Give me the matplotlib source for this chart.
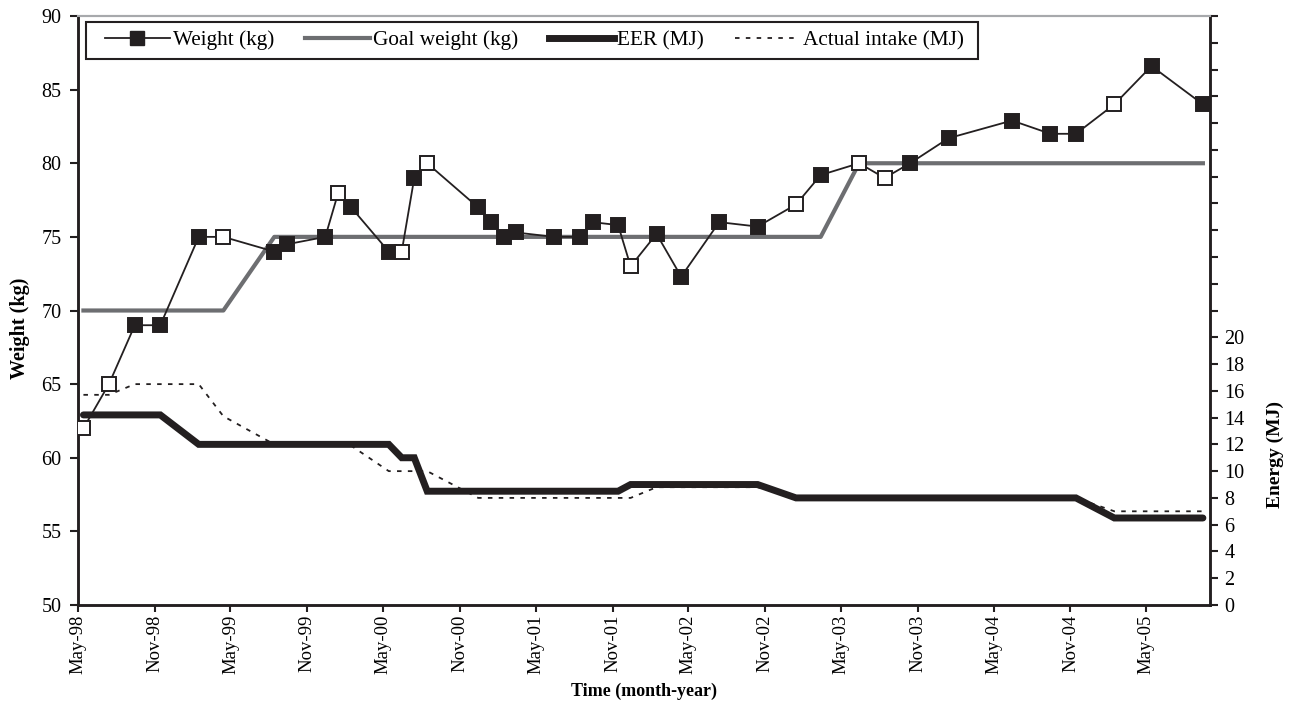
import matplotlib
matplotlib.use("Agg")
import matplotlib.pyplot as plt
from matplotlib.ticker import FixedLocator, FuncFormatter
from matplotlib.lines import Line2D
from matplotlib.patches import Rectangle
import numpy as np
import datetime as dt

plt.rcParams['font.family'] = ['Liberation Serif', 'DejaVu Serif']

# ---- data ----
weight_dates = ["1998-05", "1998-07", "1998-09", "1998-11", "1999-02", "1999-04",
                "1999-08", "1999-09", "1999-12", "2000-01", "2000-02", "2000-05",
                "2000-06", "2000-07", "2000-08", "2000-12", "2001-01", "2001-02",
                "2001-03", "2001-06", "2001-08", "2001-09", "2001-11", "2001-12",
                "2002-02", "2002-04", "2002-07", "2002-10", "2003-01", "2003-03",
                "2003-06", "2003-08", "2003-10", "2004-01", "2004-06", "2004-09",
                "2004-11", "2005-02", "2005-05", "2005-09"]
weight_kg = [62.0, 65.0, 69.0, 69.0, 75.0, 75.0,
             74.0, 74.5, 75.0, 78.0, 77.0, 74.0,
             74.0, 79.0, 80.0, 77.0, 76.0, 75.0,
             75.3, 75.0, 75.0, 76.0, 75.8, 73.0,
             75.2, 72.3, 76.0, 75.7, 77.2, 79.2,
             80.0, 79.0, 80.0, 81.7, 82.9, 82.0,
             82.0, 84.0, 86.6, 84.0]
weight_open = [1, 1, 0, 0, 0, 1,
               0, 0, 0, 1, 0, 0,
               1, 0, 1, 0, 0, 0,
               0, 0, 0, 0, 0, 1,
               0, 0, 0, 0, 1, 0,
               1, 1, 0, 0, 0, 0,
               0, 1, 0, 0]

goal_dates = ["1998-05", "1999-04", "1999-08", "2003-03", "2003-06", "2005-09"]
goal_kg = [70, 70, 75, 75, 80, 80]

eer_dates = ["1998-05", "1998-11", "1999-02", "2000-05", "2000-06", "2000-07",
             "2000-08", "2001-11", "2001-12", "2002-10", "2003-01", "2004-11",
             "2005-02", "2005-09"]
eer_mj = [14.2, 14.2, 12.0, 12.0, 11.0, 11.0,
          8.5, 8.5, 9.0, 9.0, 8.0, 8.0,
          6.5, 6.5]

intake_dates = ["1998-05", "1998-07", "1998-09", "1998-11", "1999-02", "1999-04",
                "1999-08", "1999-09", "1999-12", "2000-01", "2000-02", "2000-05",
                "2000-06", "2000-07", "2000-08", "2000-12", "2001-11", "2001-12",
                "2002-02", "2002-10", "2003-01", "2004-11", "2005-02", "2005-09"]
intake_mj = [15.7, 15.7, 16.5, 16.5, 16.5, 14.1,
             12.0, 12.0, 12.0, 12.0, 11.9, 10.0,
             10.0, 10.0, 10.0, 8.0, 8.0, 8.0,
             8.8, 8.8, 8.0, 8.0, 7.0, 7.0]

tick_labels = ["May-98", "Nov-98", "May-99", "Nov-99", "May-00", "Nov-00", "May-01",
               "Nov-01", "May-02", "Nov-02", "May-03", "Nov-03", "May-04", "Nov-04",
               "May-05"]
legend_labels = ["Weight (kg)", "Goal weight (kg)", "EER (MJ)", "Actual intake (MJ)"]


def to_date(s, day=14):
    y, m = s.split("-")
    return dt.date(int(y), int(m), day)


wd = [to_date(s) for s in weight_dates]
gd = [to_date(s) for s in goal_dates]
ed = [to_date(s) for s in eer_dates]
idt = [to_date(s) for s in intake_dates]

BLACK = "#231f20"
GREY = "#6d6e71"
DOT = (0, (2.5, 3.5))
W, H = 1296, 722

fig = plt.figure(figsize=(W / 100, H / 100), dpi=100)
ax = fig.add_axes([78 / W, 1 - 605 / H, (1210 - 78) / W, (605 - 16) / H])
ax2 = ax.twinx()

# energy lines (right axis)
ax2.plot(idt, intake_mj, color=BLACK, lw=1.3, ls=DOT, zorder=2)
ax2.plot(ed, eer_mj, color=BLACK, lw=5, solid_capstyle='round',
         solid_joinstyle='miter', zorder=3)

# weight lines (left axis) drawn above
ax.set_zorder(ax2.get_zorder() + 1)
ax.patch.set_visible(False)
ax.plot(gd, goal_kg, color=GREY, lw=3, zorder=2)
ax.plot(wd, weight_kg, color=BLACK, lw=1.3, zorder=3)
for d, w, o in zip(wd, weight_kg, weight_open):
    ax.plot([d], [w], marker='s', ms=9.5, mec=BLACK, mew=1.4,
            mfc='white' if o else BLACK, ls='none', zorder=4)

# axes ranges
ax.set_xlim(dt.date(1998, 5, 1), dt.date(2005, 10, 1))
ax.set_ylim(50, 90)
ax2.set_ylim(0, 44)

tick_dates = []
for lab in tick_labels:
    mon, yy = lab.split("-")
    tick_dates.append(dt.date(1900 + int(yy) if int(yy) > 50 else 2000 + int(yy),
                              5 if mon == "May" else 11, 1))
ax.set_xticks(tick_dates)
ax.set_xticklabels(tick_labels, rotation=90, fontsize=13.5)
ax.set_yticks(np.arange(50, 91, 5))
ax.tick_params(axis='y', labelsize=14.5, direction='out', length=5.5, width=1.5,
               color=BLACK, pad=6.5)
ax.tick_params(axis='x', direction='out', length=5, width=1.5, color=BLACK, pad=2)

ax2.yaxis.set_major_locator(FixedLocator(np.arange(0, 45, 2)))
ax2.yaxis.set_major_formatter(FuncFormatter(lambda v, p: f"{int(round(v))}" if v <= 20.5 else ""))
ax2.tick_params(axis='y', labelsize=14.5, direction='out', length=5.5, width=1.5,
                color=BLACK, pad=5)

for a in (ax, ax2):
    for side in ('left', 'bottom', 'right'):
        a.spines[side].set_linewidth(1.8)
        a.spines[side].set_color(BLACK)
    a.spines['top'].set_color("#a7a9ac")
    a.spines['top'].set_linewidth(1.5)

ax.set_ylabel("Weight (kg)", fontsize=14.5, fontweight='bold')
ax.yaxis.set_label_coords(-0.0424, 0.47)
ax.set_xlabel("Time (month-year)", fontsize=13, fontweight='bold', labelpad=6)
ax2.set_ylabel("Energy (MJ)", fontsize=14, fontweight='bold')
ax2.yaxis.set_label_coords(1.050, 0.255)

# legend (frame drawn separately to get Excel-like padding)
handles = [
    Line2D([], [], color=BLACK, lw=1.3, marker='s', ms=9.5, mfc=BLACK, mec=BLACK),
    Line2D([], [], color=GREY, lw=3),
    Line2D([], [], color=BLACK, lw=5),
    Line2D([], [], color=BLACK, lw=1.3, ls=DOT),
]
leg = ax.legend(handles, legend_labels, loc='center left',
                bbox_to_anchor=(105 / W, 1 - 40.5 / H), bbox_transform=fig.transFigure,
                ncol=4, fontsize=15.3, frameon=False,
                handlelength=3.05, handletextpad=0.15, columnspacing=1.45,
                borderpad=0, numpoints=1, borderaxespad=0)
fig.canvas.draw()
bb = leg.get_window_extent(fig.canvas.get_renderer())
x0, x1 = 86, bb.x1 + 15
y_top, y_bot = 22, 59
fig.patches.append(Rectangle((x0 / W, 1 - y_bot / H), (x1 - x0) / W, (y_bot - y_top) / H,
                             transform=fig.transFigure, fill=True, facecolor='white',
                             edgecolor=BLACK, lw=1.5, zorder=0))
leg.set_zorder(10)

fig.savefig("out.png", dpi=100)
